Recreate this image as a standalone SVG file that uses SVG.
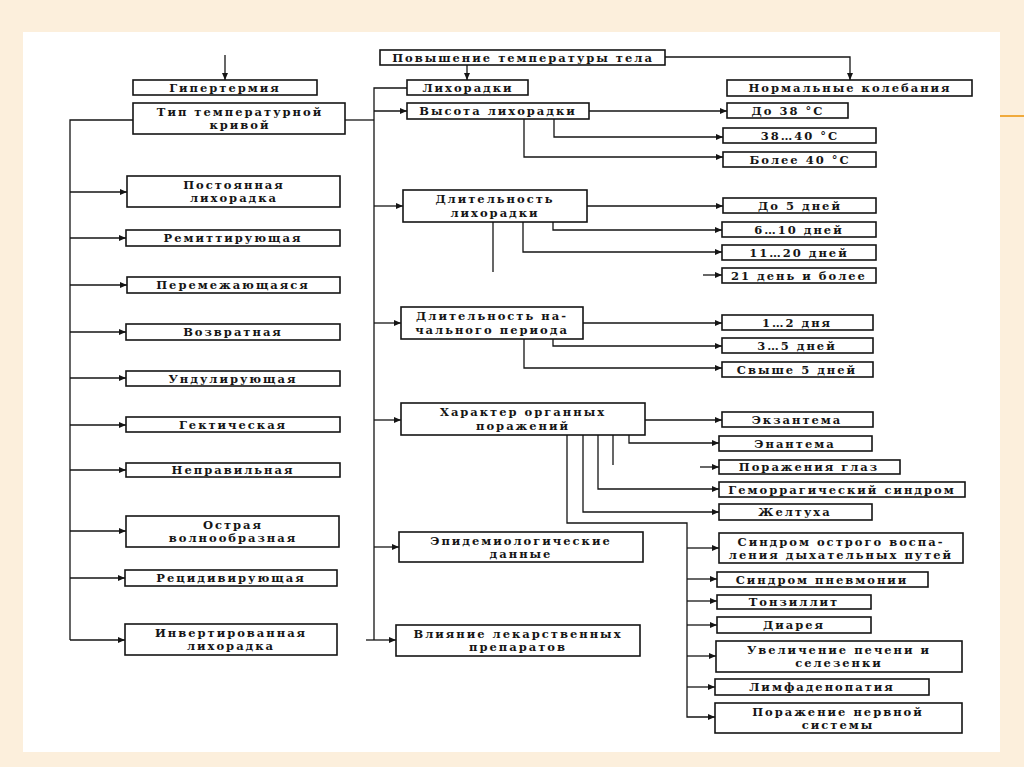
<svg xmlns="http://www.w3.org/2000/svg" width="1024" height="767" viewBox="0 0 1024 767">
<style>
.box{fill:#fff;stroke:#151515;stroke-width:1.6}
.t{font-family:"DejaVu Serif","Liberation Serif",serif;font-weight:bold;font-size:11.5px;letter-spacing:2px;fill:#151515;text-anchor:middle}
.c{fill:none;stroke:#151515;stroke-width:1.3}
</style>
<defs>
<marker id="ah" markerWidth="8" markerHeight="6" refX="7" refY="3" orient="auto" markerUnits="userSpaceOnUse">
<path d="M0,0 L7,3 L0,6 z" fill="#151515"/>
</marker>
</defs>
<rect x="0" y="0" width="1024" height="767" fill="#fcefdc"/>
<rect x="23" y="32" width="977" height="720" fill="#ffffff"/>
<line x1="1000" y1="116" x2="1024" y2="116" stroke="#f0aa3c" stroke-width="2"/>

<g id="connectors">
<path class="c" d="M665 57 H850 V80" marker-end="url(#ah)"/>
<path class="c" d="M467 65 V80" marker-end="url(#ah)"/>
<path class="c" d="M225 55 V80" marker-end="url(#ah)"/>
<path class="c" d="M407 88 H374 V640"/>
<path class="c" d="M345 120 H374"/>
<path class="c" d="M133 120 H70 V640"/>
<path class="c" d="M70 192 H127" marker-end="url(#ah)"/>
<path class="c" d="M70 238 H126" marker-end="url(#ah)"/>
<path class="c" d="M70 285 H127" marker-end="url(#ah)"/>
<path class="c" d="M70 332 H126" marker-end="url(#ah)"/>
<path class="c" d="M70 378 H126" marker-end="url(#ah)"/>
<path class="c" d="M70 425 H126" marker-end="url(#ah)"/>
<path class="c" d="M70 470 H126" marker-end="url(#ah)"/>
<path class="c" d="M70 531 H126" marker-end="url(#ah)"/>
<path class="c" d="M70 578 H125" marker-end="url(#ah)"/>
<path class="c" d="M70 640 H125" marker-end="url(#ah)"/>
<path class="c" d="M374 111 H407" marker-end="url(#ah)"/>
<path class="c" d="M374 206 H403" marker-end="url(#ah)"/>
<path class="c" d="M374 323 H401" marker-end="url(#ah)"/>
<path class="c" d="M374 420 H401" marker-end="url(#ah)"/>
<path class="c" d="M374 547 H399" marker-end="url(#ah)"/>
<path class="c" d="M366 640 H396" marker-end="url(#ah)"/>
<path class="c" d="M589 111 H727" marker-end="url(#ah)"/>
<path class="c" d="M554 119 V137 H723" marker-end="url(#ah)"/>
<path class="c" d="M524 119 V157 H723" marker-end="url(#ah)"/>
<path class="c" d="M587 206 H723" marker-end="url(#ah)"/>
<path class="c" d="M553 222 V230 H722" marker-end="url(#ah)"/>
<path class="c" d="M523 222 V252 H722" marker-end="url(#ah)"/>
<path class="c" d="M493 222 V272"/>
<path class="c" d="M703 275 H722" marker-end="url(#ah)"/>
<path class="c" d="M583 323 H722" marker-end="url(#ah)"/>
<path class="c" d="M553 339 V346 H722" marker-end="url(#ah)"/>
<path class="c" d="M524 339 V368 H722" marker-end="url(#ah)"/>
<path class="c" d="M645 420 H722" marker-end="url(#ah)"/>
<path class="c" d="M629 435 V443 H719" marker-end="url(#ah)"/>
<path class="c" d="M613 435 V465"/>
<path class="c" d="M700 467 H719" marker-end="url(#ah)"/>
<path class="c" d="M598 435 V489 H719" marker-end="url(#ah)"/>
<path class="c" d="M583 435 V512 H719" marker-end="url(#ah)"/>
<path class="c" d="M567 435 V523 H687 V717 H715" marker-end="url(#ah)"/>
<path class="c" d="M687 548 H719" marker-end="url(#ah)"/>
<path class="c" d="M687 579 H717" marker-end="url(#ah)"/>
<path class="c" d="M687 601 H717" marker-end="url(#ah)"/>
<path class="c" d="M687 625 H717" marker-end="url(#ah)"/>
<path class="c" d="M687 656 H716" marker-end="url(#ah)"/>
<path class="c" d="M687 687 H715" marker-end="url(#ah)"/>
</g>

<g id="povyshenie"><rect class="box" x="380" y="50" width="285" height="15"/><text class="t" x="523" y="62">Повышение температуры тела</text></g>
<g id="gipertermiya"><rect class="box" x="133" y="80" width="184" height="15"/><text class="t" x="225" y="92">Гипертермия</text></g>
<g id="likhoradki"><rect class="box" x="407" y="80" width="121" height="15"/><text class="t" x="468" y="92">Лихорадки</text></g>
<g id="normalnye"><rect class="box" x="727" y="80" width="245" height="16"/><text class="t" x="850" y="92">Нормальные колебания</text></g>

<g id="tip"><rect class="box" x="133" y="103" width="212" height="31"/><text class="t" x="240" y="116">Тип температурной</text><text class="t" x="240" y="129">кривой</text></g>
<g id="vysota"><rect class="box" x="407" y="103" width="182" height="16"/><text class="t" x="498" y="115">Высота лихорадки</text></g>
<g id="do38"><rect class="box" x="727" y="103" width="121" height="15"/><text class="t" x="788" y="115">До 38 °С</text></g>
<g id="t38_40"><rect class="box" x="723" y="128" width="153" height="15"/><text class="t" x="800" y="140">38…40 °С</text></g>
<g id="bolee40"><rect class="box" x="723" y="152" width="153" height="15"/><text class="t" x="800" y="164">Более 40 °С</text></g>

<g id="postoyannaya"><rect class="box" x="127" y="176" width="213" height="31"/><text class="t" x="234" y="189">Постоянная</text><text class="t" x="234" y="202">лихорадка</text></g>
<g id="remittiruyushchaya"><rect class="box" x="126" y="230" width="214" height="16"/><text class="t" x="233" y="242">Ремиттирующая</text></g>
<g id="peremezhayushchayasya"><rect class="box" x="127" y="277" width="213" height="16"/><text class="t" x="233" y="289">Перемежающаяся</text></g>
<g id="vozvratnaya"><rect class="box" x="126" y="324" width="214" height="16"/><text class="t" x="233" y="336">Возвратная</text></g>
<g id="unduliruyushchaya"><rect class="box" x="126" y="371" width="214" height="15"/><text class="t" x="233" y="383">Ундулирующая</text></g>
<g id="gekticheskaya"><rect class="box" x="126" y="417" width="214" height="15"/><text class="t" x="233" y="429">Гектическая</text></g>
<g id="nepravilnaya"><rect class="box" x="126" y="463" width="214" height="14"/><text class="t" x="233" y="474">Неправильная</text></g>
<g id="ostraya"><rect class="box" x="126" y="516" width="213" height="31"/><text class="t" x="233" y="529">Острая</text><text class="t" x="233" y="542">волнообразная</text></g>
<g id="retsidiviruyushchaya"><rect class="box" x="125" y="570" width="212" height="16"/><text class="t" x="231" y="582">Рецидивирующая</text></g>
<g id="invertirovannaya"><rect class="box" x="125" y="624" width="212" height="31"/><text class="t" x="231" y="637">Инвертированная</text><text class="t" x="231" y="650">лихорадка</text></g>

<g id="dlitelnost"><rect class="box" x="403" y="190" width="184" height="32"/><text class="t" x="495" y="203">Длительность</text><text class="t" x="495" y="217">лихорадки</text></g>
<g id="do5"><rect class="box" x="723" y="198" width="153" height="15"/><text class="t" x="800" y="210">До 5 дней</text></g>
<g id="d6_10"><rect class="box" x="722" y="222" width="154" height="15"/><text class="t" x="799" y="234">6…10 дней</text></g>
<g id="d11_20"><rect class="box" x="722" y="245" width="154" height="15"/><text class="t" x="799" y="257">11…20 дней</text></g>
<g id="d21"><rect class="box" x="722" y="268" width="154" height="15"/><text class="t" x="799" y="280">21 день и более</text></g>

<g id="nachalny"><rect class="box" x="401" y="307" width="182" height="32"/><text class="t" x="492" y="320">Длительность на-</text><text class="t" x="492" y="334">чального периода</text></g>
<g id="d1_2"><rect class="box" x="722" y="315" width="151" height="15"/><text class="t" x="797" y="327">1…2 дня</text></g>
<g id="d3_5"><rect class="box" x="722" y="338" width="151" height="15"/><text class="t" x="797" y="350">3…5 дней</text></g>
<g id="svyshe5"><rect class="box" x="722" y="362" width="151" height="15"/><text class="t" x="797" y="374">Свыше 5 дней</text></g>

<g id="kharakter"><rect class="box" x="401" y="403" width="244" height="32"/><text class="t" x="523" y="416">Характер органных</text><text class="t" x="523" y="430">поражений</text></g>
<g id="ekzantema"><rect class="box" x="722" y="412" width="151" height="15"/><text class="t" x="797" y="424">Экзантема</text></g>
<g id="enantema"><rect class="box" x="719" y="436" width="153" height="15"/><text class="t" x="795" y="448">Энантема</text></g>
<g id="glaz"><rect class="box" x="719" y="460" width="181" height="14"/><text class="t" x="809" y="471">Поражения глаз</text></g>
<g id="gemorr"><rect class="box" x="719" y="482" width="246" height="15"/><text class="t" x="842" y="494">Геморрагический синдром</text></g>
<g id="zheltukha"><rect class="box" x="719" y="504" width="153" height="16"/><text class="t" x="795" y="516">Желтуха</text></g>

<g id="epid"><rect class="box" x="399" y="532" width="244" height="30"/><text class="t" x="521" y="545">Эпидемиологические</text><text class="t" x="521" y="558">данные</text></g>
<g id="vliyanie"><rect class="box" x="396" y="625" width="244" height="31"/><text class="t" x="518" y="638">Влияние лекарственных</text><text class="t" x="518" y="651">препаратов</text></g>

<g id="dykhatelnye"><rect class="box" x="719" y="533" width="244" height="30"/><text class="t" x="841" y="546">Синдром острого воспа-</text><text class="t" x="841" y="559">ления дыхательных путей</text></g>
<g id="pnevmoniya"><rect class="box" x="717" y="572" width="211" height="15"/><text class="t" x="822" y="584">Синдром пневмонии</text></g>
<g id="tonzillit"><rect class="box" x="717" y="595" width="154" height="14"/><text class="t" x="794" y="606">Тонзиллит</text></g>
<g id="diareya"><rect class="box" x="717" y="617" width="154" height="16"/><text class="t" x="794" y="629">Диарея</text></g>
<g id="pechen"><rect class="box" x="716" y="641" width="246" height="31"/><text class="t" x="839" y="654">Увеличение печени и</text><text class="t" x="839" y="667">селезенки</text></g>
<g id="limfadenopatiya"><rect class="box" x="715" y="679" width="214" height="16"/><text class="t" x="822" y="691">Лимфаденопатия</text></g>
<g id="nervnaya"><rect class="box" x="715" y="703" width="247" height="30"/><text class="t" x="838" y="716">Поражение нервной</text><text class="t" x="838" y="729">системы</text></g>
</svg>
